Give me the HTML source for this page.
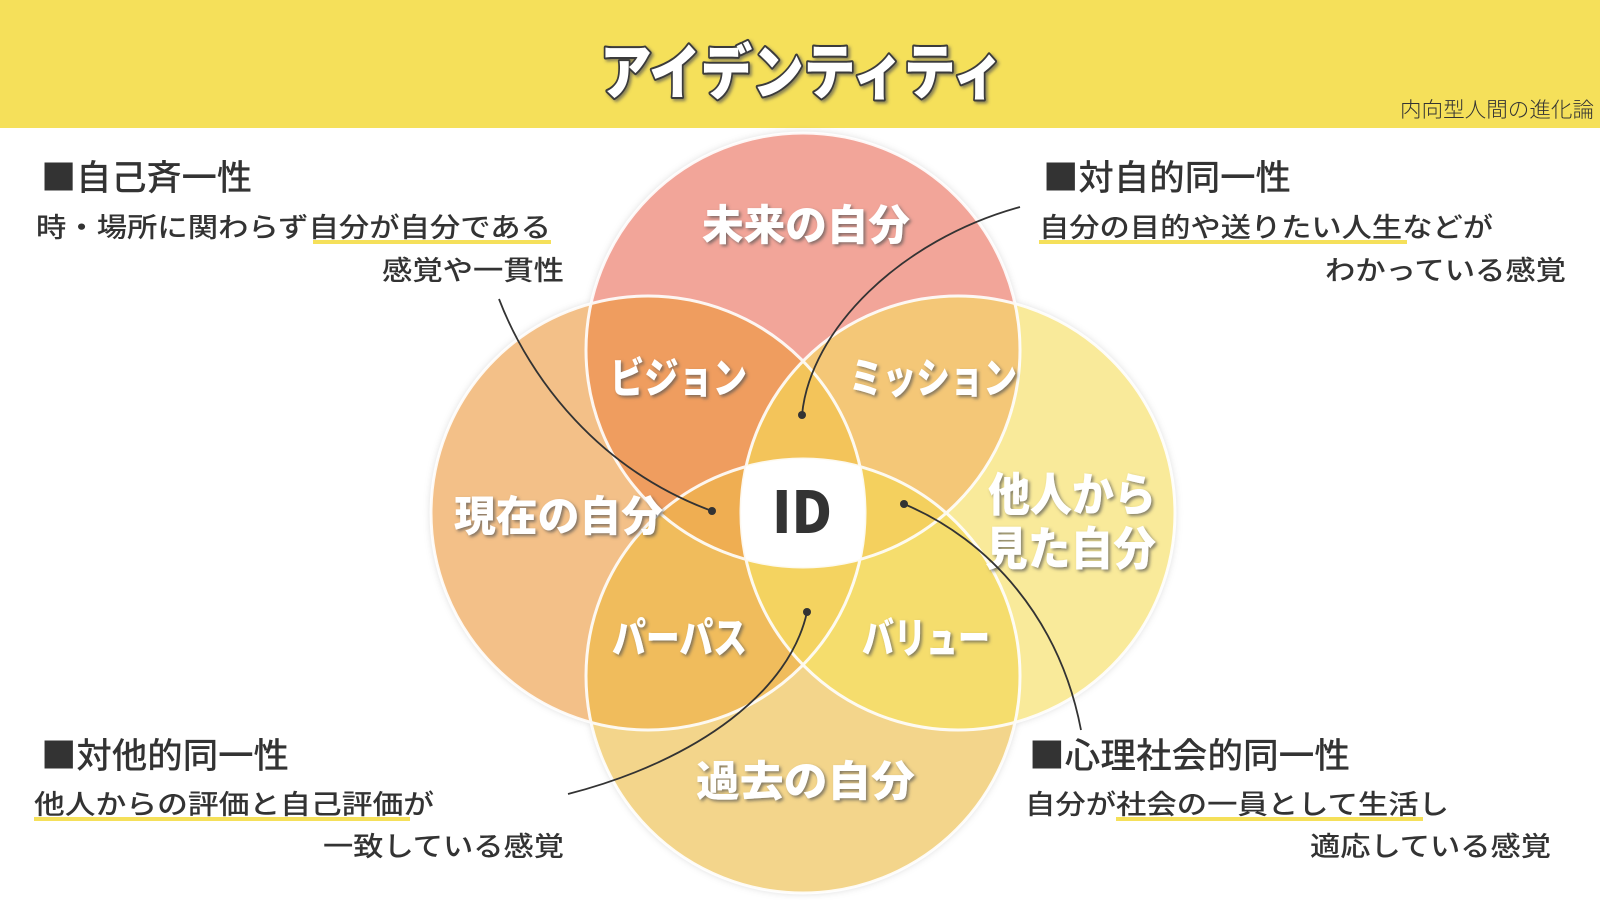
<!DOCTYPE html>
<html><head><meta charset="utf-8">
<style>
html,body{margin:0;padding:0;}
body{width:1600px;height:900px;overflow:hidden;background:#fff;position:relative;font-family:"Liberation Sans","Noto Sans CJK JP",sans-serif;}
.banner{position:absolute;left:0;top:0;width:1600px;height:128px;background:#f5e05a;}
svg{position:absolute;left:0;top:0;}
</style></head><body>
<div class="banner"></div>
<svg width="1600" height="900" viewBox="0 0 1600 900">
<defs>
<clipPath id="cT"><circle cx="803" cy="350" r="217"/></clipPath>
<clipPath id="cL"><circle cx="648" cy="513" r="217"/></clipPath>
<clipPath id="cR"><circle cx="958" cy="513" r="217"/></clipPath>
<clipPath id="cB"><circle cx="803" cy="676" r="217"/></clipPath>
<filter id="sh" x="-20%" y="-20%" width="140%" height="140%"><feDropShadow dx="0" dy="0" stdDeviation="4" flood-color="#000" flood-opacity="0.18"/></filter>
<filter id="ts" x="-20%" y="-20%" width="140%" height="140%"><feDropShadow dx="2" dy="2" stdDeviation="1.5" flood-color="#555" flood-opacity="0.7"/></filter>
</defs>
<text x="600" y="94" textLength="404" lengthAdjust="spacingAndGlyphs" font-family="Noto Sans CJK JP, sans-serif" font-weight="900" font-size="60" fill="#fff" stroke="#3a3a3a" stroke-width="4" stroke-linejoin="round" paint-order="stroke" filter="url(#ts)">アイデンティティ</text>
<text x="1400" y="117" textLength="194" lengthAdjust="spacingAndGlyphs" font-family="Noto Sans CJK JP, sans-serif" font-weight="300" font-size="21" fill="#333">内向型人間の進化論</text>
<g filter="url(#sh)">
<circle cx="803" cy="350" r="217" fill="#f2a599"/>
<circle cx="648" cy="513" r="217" fill="#f3c088"/>
<circle cx="958" cy="513" r="217" fill="#f9ea9a"/>
<circle cx="803" cy="676" r="217" fill="#f3d58b"/>
</g>
<g clip-path="url(#cT)"><rect x="0" y="0" width="1600" height="900" fill="#f2a599"/></g>
<g clip-path="url(#cT)"><g clip-path="url(#cL)"><rect width="1600" height="900" fill="#ef9d5f"/></g></g>
<g clip-path="url(#cT)"><g clip-path="url(#cR)"><rect width="1600" height="900" fill="#f4c777"/></g></g>
<g clip-path="url(#cB)"><g clip-path="url(#cL)"><rect width="1600" height="900" fill="#f0bc5c"/></g></g>
<g clip-path="url(#cB)"><g clip-path="url(#cR)"><rect width="1600" height="900" fill="#f5dd6d"/></g></g>
<g clip-path="url(#cT)"><g clip-path="url(#cL)"><g clip-path="url(#cR)"><rect width="1600" height="900" fill="#f3c45a"/></g></g></g>
<g clip-path="url(#cT)"><g clip-path="url(#cB)"><g clip-path="url(#cL)"><rect width="1600" height="900" fill="#efae52"/></g></g></g>
<g clip-path="url(#cT)"><g clip-path="url(#cB)"><g clip-path="url(#cR)"><rect width="1600" height="900" fill="#f4d05e"/></g></g></g>
<g clip-path="url(#cB)"><g clip-path="url(#cL)"><g clip-path="url(#cR)"><rect width="1600" height="900" fill="#f4d360"/></g></g></g>
<g clip-path="url(#cT)"><g clip-path="url(#cB)"><g clip-path="url(#cL)"><g clip-path="url(#cR)"><rect width="1600" height="900" fill="#ffffff"/></g></g></g></g>
<g fill="none" stroke="#fff" stroke-width="3" opacity="0.9">
<circle cx="803" cy="350" r="217"/>
<circle cx="648" cy="513" r="217"/>
<circle cx="958" cy="513" r="217"/>
<circle cx="803" cy="676" r="217"/>
</g>
<g font-family="Noto Sans CJK JP, sans-serif" font-weight="900" fill="#fff" filter="url(#ts)" font-size="42" lengthAdjust="spacingAndGlyphs">
<text x="702" y="240" textLength="208" lengthAdjust="spacingAndGlyphs">未来の自分</text>
<text x="610" y="393" textLength="137" lengthAdjust="spacingAndGlyphs">ビジョン</text>
<text x="849" y="393" textLength="168" lengthAdjust="spacingAndGlyphs">ミッション</text>
<text x="454" y="531" textLength="209" lengthAdjust="spacingAndGlyphs">現在の自分</text>
<text x="988" y="511" font-size="46" textLength="168" lengthAdjust="spacingAndGlyphs">他人から</text>
<text x="985" y="565" font-size="46" textLength="171" lengthAdjust="spacingAndGlyphs">見た自分</text>
<text x="612" y="653" textLength="135" lengthAdjust="spacingAndGlyphs">パーパス</text>
<text x="862" y="653" textLength="128" lengthAdjust="spacingAndGlyphs">バリュー</text>
<text x="696" y="796" textLength="219" lengthAdjust="spacingAndGlyphs">過去の自分</text>
</g>
<text x="772" y="533" textLength="60" lengthAdjust="spacingAndGlyphs" font-family="Noto Sans CJK JP, sans-serif" font-weight="900" font-size="58" fill="#333">ID</text>
<g fill="none" stroke="#333" stroke-width="1.8">
<path d="M499 299 C530 380 600 470 712 511"/>
<path d="M1020 207 C900 240 810 330 802 415"/>
<path d="M568 794 C700 760 790 690 807 612"/>
<path d="M904 504 C990 540 1060 620 1081 730"/>
</g>
<g fill="#333">
<circle cx="712" cy="511" r="4"/>
<circle cx="802" cy="415" r="4"/>
<circle cx="807" cy="612" r="4"/>
<circle cx="904" cy="504" r="4"/>
</g>

<!-- underlines -->
<g fill="#f5e05a">
<rect x="313" y="240" width="238" height="4"/>
<rect x="1039" y="240" width="368" height="4"/>
<rect x="34" y="817" width="376" height="4"/>
<rect x="1116" y="817" width="307" height="4"/>
</g>

<g font-family="Noto Sans CJK JP, sans-serif" fill="#333" font-weight="500">
<text x="41" y="190" font-size="35" textLength="211" lengthAdjust="spacingAndGlyphs">■自己斉一性</text>
<text x="36" y="237" font-size="27" textLength="515" lengthAdjust="spacingAndGlyphs">時・場所に関わらず自分が自分である</text>
<text x="382" y="280" font-size="27" textLength="182" lengthAdjust="spacingAndGlyphs">感覚や一貫性</text>

<text x="1043" y="190" font-size="35" textLength="248" lengthAdjust="spacingAndGlyphs">■対自的同一性</text>
<text x="1039" y="237" font-size="27" textLength="454" lengthAdjust="spacingAndGlyphs">自分の目的や送りたい人生などが</text>
<text x="1325" y="280" font-size="27" textLength="241" lengthAdjust="spacingAndGlyphs">わかっている感覚</text>

<text x="41" y="768" font-size="35" textLength="248" lengthAdjust="spacingAndGlyphs">■対他的同一性</text>
<text x="34" y="814" font-size="27" textLength="400" lengthAdjust="spacingAndGlyphs">他人からの評価と自己評価が</text>
<text x="323" y="856" font-size="27" textLength="241" lengthAdjust="spacingAndGlyphs">一致している感覚</text>

<text x="1029" y="768" font-size="35" textLength="321" lengthAdjust="spacingAndGlyphs">■心理社会的同一性</text>
<text x="1025" y="814" font-size="27" textLength="424" lengthAdjust="spacingAndGlyphs">自分が社会の一員として生活し</text>
<text x="1310" y="856" font-size="27" textLength="241" lengthAdjust="spacingAndGlyphs">適応している感覚</text>
</g>
</svg>
</body></html>
